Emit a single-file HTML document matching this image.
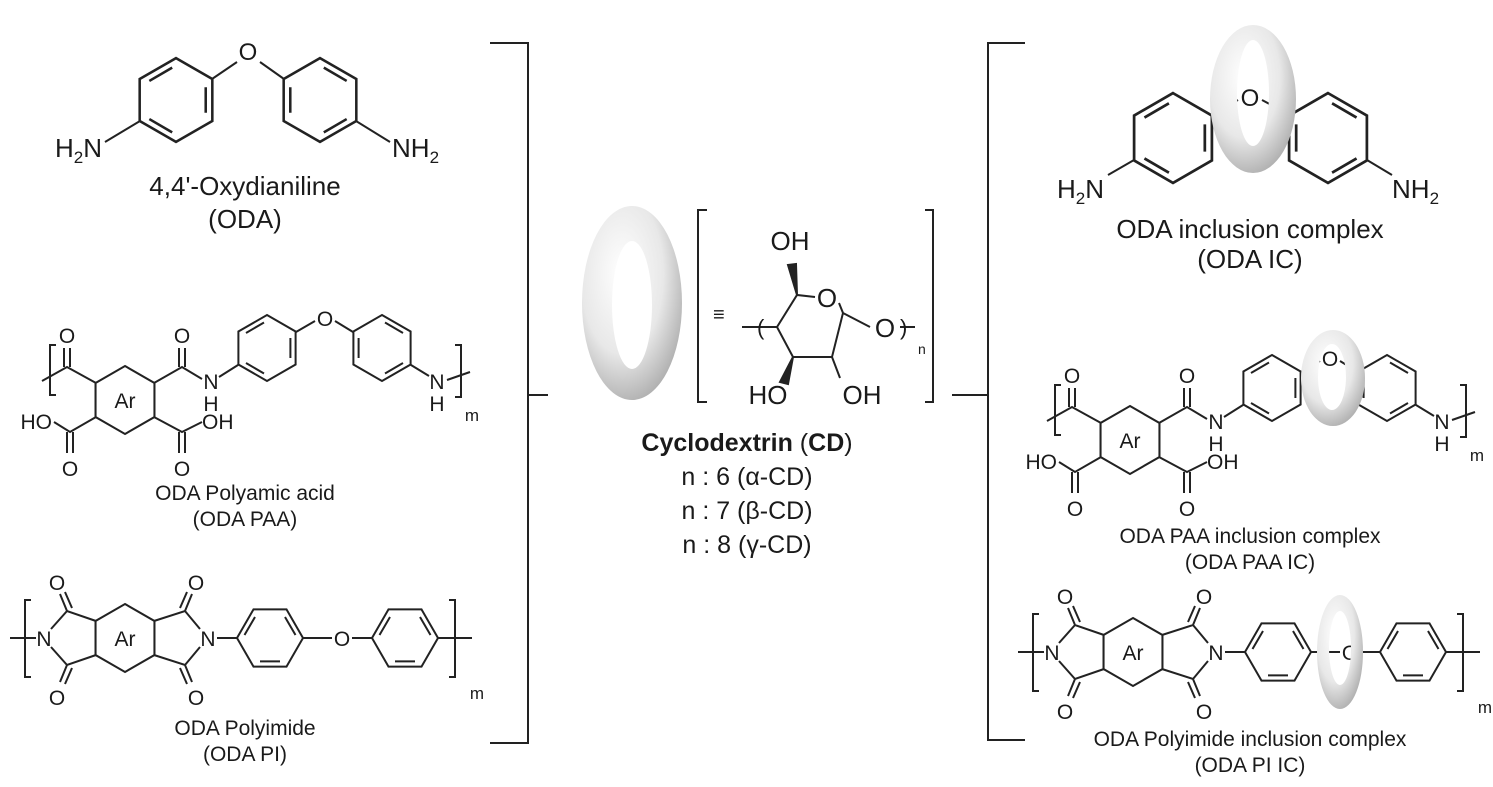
<!DOCTYPE html>
<html><head><meta charset="utf-8"><style>
html,body{margin:0;padding:0;background:#fff}
svg{display:block}
text{font-family:"Liberation Sans",Arial,sans-serif;fill:#1a1a1a}
</style></head><body>
<svg width="1493" height="787" viewBox="0 0 1493 787" xmlns="http://www.w3.org/2000/svg">
<defs>
<radialGradient id="g" cx="0.4" cy="0.35" r="0.75">
<stop offset="0" stop-color="#ffffff"/><stop offset="0.55" stop-color="#e8e8e8"/><stop offset="1" stop-color="#a2a2a2"/>
</radialGradient>
</defs>
<g fill="none" stroke="#222" stroke-width="2">

<!-- Left ODA -->
<g transform="translate(176,100) scale(1.27)"><path d="M0,-33 L28.6,-16.5 L28.6,16.5 L0,33 L-28.6,16.5 L-28.6,-16.5Z"/><path d="M-21,-15 L-3,-25.5 M23.4,-10 L23.4,10 M-3,25.5 L-21,15"/></g>
<g transform="translate(320,100) scale(1.27)"><path d="M0,-33 L28.6,-16.5 L28.6,16.5 L0,33 L-28.6,16.5 L-28.6,-16.5Z"/><path d="M21,-15 L3,-25.5 M-23.4,-10 L-23.4,10 M3,25.5 L21,15"/></g>
<path d="M212,79 L237,62 M260,62 L284,79 M140,121 L105,142 M356,121 L390,142"/>

<!-- Left PAA -->
<g>
<g transform="translate(125,400) scale(1.03)"><path d="M0,-33 L28.6,-16.5 L28.6,16.5 L0,33 L-28.6,16.5 L-28.6,-16.5Z"/></g>
<path d="M96,383 L67,367 L42,381 M64,367 L64,348 M70,367 L70,348 M154,383 L182,367 L202,379 M179,367 L179,348 M185,367 L185,348 M219,377 L238,365 M296,332 L315,321 M335,321 L353,332 M411,365 L429,376 M447,380 L470,372 M56,345 L50,345 L50,395 L56,395 M455,345 L461,345 L461,397 L455,397 M96,417 L70,432 L54,422 M67,432 L67,453 M73,432 L73,453 M154,417 L182,432 L202,422 M179,432 L179,453 M185,432 L185,453"/>
<g transform="translate(267,348)"><path d="M0,-33 L28.6,-16.5 L28.6,16.5 L0,33 L-28.6,16.5 L-28.6,-16.5Z"/><path d="M-21,-15 L-3,-25.5 M23.4,-10 L23.4,10 M-3,25.5 L-21,15"/></g>
<g transform="translate(382,348)"><path d="M0,-33 L28.6,-16.5 L28.6,16.5 L0,33 L-28.6,16.5 L-28.6,-16.5Z"/><path d="M21,-15 L3,-25.5 M-23.4,-10 L-23.4,10 M3,25.5 L21,15"/></g>
</g>

<!-- Left PI -->
<g>
<g transform="translate(125,638) scale(1.03)"><path d="M0,-33 L28.6,-16.5 L28.6,16.5 L0,33 L-28.6,16.5 L-28.6,-16.5Z"/></g>
<path d="M96,621 L67,611 L51,629 M51,647 L67,665 L96,655 M36,638 L10,638 M67,611 L60,594 M72,608 L65,592 M67,665 L60,682 M72,668 L65,684 M154,621 L185,611 L200,629 M200,647 L185,665 L154,655 M185,611 L192,594 M180,608 L187,592 M185,665 L192,682 M180,668 L187,684 M217,638 L237,638 M303,638 L332,638 M352,638 L372,638 M438,638 L472,638 M31,600 L25,600 L25,677 L31,677 M449,600 L455,600 L455,677 L449,677"/>
<g transform="translate(270,638) rotate(90)"><path d="M0,-33 L28.6,-16.5 L28.6,16.5 L0,33 L-28.6,16.5 L-28.6,-16.5Z"/><path d="M-21,-15 L-3,-25.5 M23.4,-10 L23.4,10 M-3,25.5 L-21,15"/></g>
<g transform="translate(405,638) rotate(90)"><path d="M0,-33 L28.6,-16.5 L28.6,16.5 L0,33 L-28.6,16.5 L-28.6,-16.5Z"/><path d="M-21,-15 L-3,-25.5 M23.4,-10 L23.4,10 M-3,25.5 L-21,15"/></g>
</g>

<!-- Big brackets -->
<path d="M490,43 L528,43 L528,743 L490,743 M528,395 L548,395"/>
<path d="M1025,43 L988,43 L988,740 L1025,740 M988,395 L952,395"/>

<!-- CD structure -->
<path d="M707,210 L698,210 L698,402 L707,402 M925,210 L933,210 L933,402 L925,402 M742,327 L777,327 L797,295 L815,297 M839,303 L843,313 L832,357 L793,357 L777,327 M843,313 L870,327 M900,327 L915,327 M832,357 L840,378"/>
<path d="M797,295 L788,265 L796,264Z M793,357 L780,382 L788,384Z" fill="#222"/>

<!-- Right ODA IC -->
<g transform="translate(1173,138) scale(1.36)"><path d="M0,-33 L28.6,-16.5 L28.6,16.5 L0,33 L-28.6,16.5 L-28.6,-16.5Z"/><path d="M-21,-15 L-3,-25.5 M23.4,-10 L23.4,10 M-3,25.5 L-21,15"/></g>
<g transform="translate(1328,138) scale(1.36)"><path d="M0,-33 L28.6,-16.5 L28.6,16.5 L0,33 L-28.6,16.5 L-28.6,-16.5Z"/><path d="M21,-15 L3,-25.5 M-23.4,-10 L-23.4,10 M3,25.5 L21,15"/></g>
<path d="M1211,115 L1238,100 M1262,100 L1290,115 M1134,160 L1108,175 M1367,160 L1392,175"/>

<!-- Right PAA -->
<g transform="translate(1005,40)">
<g transform="translate(125,400) scale(1.03)"><path d="M0,-33 L28.6,-16.5 L28.6,16.5 L0,33 L-28.6,16.5 L-28.6,-16.5Z"/></g>
<path d="M96,383 L67,367 L42,381 M64,367 L64,348 M70,367 L70,348 M154,383 L182,367 L202,379 M179,367 L179,348 M185,367 L185,348 M219,377 L238,365 M296,332 L315,321 M335,321 L353,332 M411,365 L429,376 M447,380 L470,372 M56,345 L50,345 L50,395 L56,395 M455,345 L461,345 L461,397 L455,397 M96,417 L70,432 L54,422 M67,432 L67,453 M73,432 L73,453 M154,417 L182,432 L202,422 M179,432 L179,453 M185,432 L185,453"/>
<g transform="translate(267,348)"><path d="M0,-33 L28.6,-16.5 L28.6,16.5 L0,33 L-28.6,16.5 L-28.6,-16.5Z"/><path d="M-21,-15 L-3,-25.5 M23.4,-10 L23.4,10 M-3,25.5 L-21,15"/></g>
<g transform="translate(382,348)"><path d="M0,-33 L28.6,-16.5 L28.6,16.5 L0,33 L-28.6,16.5 L-28.6,-16.5Z"/><path d="M21,-15 L3,-25.5 M-23.4,-10 L-23.4,10 M3,25.5 L21,15"/></g>
</g>

<!-- Right PI -->
<g transform="translate(1008,14)">
<g transform="translate(125,638) scale(1.03)"><path d="M0,-33 L28.6,-16.5 L28.6,16.5 L0,33 L-28.6,16.5 L-28.6,-16.5Z"/></g>
<path d="M96,621 L67,611 L51,629 M51,647 L67,665 L96,655 M36,638 L10,638 M67,611 L60,594 M72,608 L65,592 M67,665 L60,682 M72,668 L65,684 M154,621 L185,611 L200,629 M200,647 L185,665 L154,655 M185,611 L192,594 M180,608 L187,592 M185,665 L192,682 M180,668 L187,684 M217,638 L237,638 M303,638 L332,638 M352,638 L372,638 M438,638 L472,638 M31,600 L25,600 L25,677 L31,677 M449,600 L455,600 L455,677 L449,677"/>
<g transform="translate(270,638) rotate(90)"><path d="M0,-33 L28.6,-16.5 L28.6,16.5 L0,33 L-28.6,16.5 L-28.6,-16.5Z"/><path d="M-21,-15 L-3,-25.5 M23.4,-10 L23.4,10 M-3,25.5 L-21,15"/></g>
<g transform="translate(405,638) rotate(90)"><path d="M0,-33 L28.6,-16.5 L28.6,16.5 L0,33 L-28.6,16.5 L-28.6,-16.5Z"/><path d="M-21,-15 L-3,-25.5 M23.4,-10 L23.4,10 M-3,25.5 L-21,15"/></g>
</g>
</g>

<!-- Texts left -->
<g font-size="26">
<text x="248" y="60" text-anchor="middle" font-size="24">O</text>
<text x="102" y="157" text-anchor="end">H<tspan font-size="17" dy="6">2</tspan><tspan dy="-6">N</tspan></text>
<text x="392" y="157">NH<tspan font-size="17" dy="6">2</tspan></text>
<text x="245" y="195" text-anchor="middle">4,4'-Oxydianiline</text>
<text x="245" y="228" text-anchor="middle">(ODA)</text>
</g>
<g font-size="21" text-anchor="middle">
<text x="67" y="343">O</text><text x="182" y="343">O</text>
<text x="125" y="408">Ar</text>
<text x="211" y="389">N</text><text x="211" y="411">H</text>
<text x="325" y="326">O</text>
<text x="437" y="389">N</text><text x="437" y="411">H</text>
<text x="472" y="421" font-size="17">m</text>
<text x="70" y="476">O</text><text x="182" y="476">O</text>
<text x="52" y="429" text-anchor="end">HO</text>
<text x="202" y="429" text-anchor="start">OH</text>
</g>
<g font-size="21" text-anchor="middle">
<text x="245" y="500">ODA Polyamic acid</text>
<text x="245" y="526">(ODA PAA)</text>
<text x="125" y="646">Ar</text>
<text x="44" y="646">N</text><text x="208" y="646">N</text>
<text x="57" y="590">O</text><text x="57" y="705">O</text>
<text x="196" y="590">O</text><text x="196" y="705">O</text>
<text x="342" y="646">O</text>
<text x="477" y="699" font-size="17">m</text>
<text x="245" y="735">ODA Polyimide</text>
<text x="245" y="761">(ODA PI)</text>
</g>

<!-- Right texts -->
<g font-size="26">
<text x="1250" y="106" text-anchor="middle" font-size="24">O</text>
<text x="1104" y="198" text-anchor="end">H<tspan font-size="17" dy="6">2</tspan><tspan dy="-6">N</tspan></text>
<text x="1392" y="198">NH<tspan font-size="17" dy="6">2</tspan></text>
<text x="1250" y="238" text-anchor="middle">ODA inclusion complex</text>
<text x="1250" y="268" text-anchor="middle">(ODA IC)</text>
</g>
<g transform="translate(1005,40)" font-size="21" text-anchor="middle">
<text x="67" y="343">O</text><text x="182" y="343">O</text>
<text x="125" y="408">Ar</text>
<text x="211" y="389">N</text><text x="211" y="411">H</text>
<text x="325" y="326">O</text>
<text x="437" y="389">N</text><text x="437" y="411">H</text>
<text x="472" y="421" font-size="17">m</text>
<text x="70" y="476">O</text><text x="182" y="476">O</text>
<text x="52" y="429" text-anchor="end">HO</text>
<text x="202" y="429" text-anchor="start">OH</text>
</g>
<g transform="translate(1008,14)" font-size="21" text-anchor="middle">
<text x="125" y="646">Ar</text>
<text x="44" y="646">N</text><text x="208" y="646">N</text>
<text x="57" y="590">O</text><text x="57" y="705">O</text>
<text x="196" y="590">O</text><text x="196" y="705">O</text>
<text x="342" y="646">O</text>
<text x="477" y="699" font-size="17">m</text>
</g>
<g font-size="21" text-anchor="middle">
<text x="1250" y="543">ODA PAA inclusion complex</text>
<text x="1250" y="569">(ODA PAA IC)</text>
<text x="1250" y="746">ODA Polyimide inclusion complex</text>
<text x="1250" y="772">(ODA PI IC)</text>
</g>

<!-- CD texts -->
<g font-size="26">
<text x="713" y="321" font-size="20">≡</text>
<text x="790" y="250" text-anchor="middle">OH</text>
<text x="827" y="307" text-anchor="middle">O</text>
<text x="885" y="337" text-anchor="middle">O</text>
<text x="757" y="335" font-size="22">(</text>
<text x="900" y="335" font-size="22">)</text>
<text x="918" y="354" font-size="14">n</text>
<text x="768" y="404" text-anchor="middle">HO</text>
<text x="862" y="404" text-anchor="middle">OH</text>
</g>
<g font-size="25" text-anchor="middle">
<text x="747" y="451"><tspan font-weight="bold">Cyclodextrin</tspan> (<tspan font-weight="bold">CD</tspan>)</text>
<text x="747" y="485">n : 6 (α-CD)</text>
<text x="747" y="519">n : 7 (β-CD)</text>
<text x="747" y="553">n : 8 (γ-CD)</text>
</g>

<!-- Tori -->
<path fill="url(#g)" fill-rule="evenodd" d="M582,303 a50,97 0 1,0 100,0 a50,97 0 1,0 -100,0Z M612,305 a20,64 0 1,0 40,0 a20,64 0 1,0 -40,0Z"/>
<path fill="url(#g)" fill-rule="evenodd" d="M1210,99 a43,74 0 1,0 86,0 a43,74 0 1,0 -86,0Z M1237,93 a16,53 0 1,0 32,0 a16,53 0 1,0 -32,0Z"/>
<path fill="url(#g)" fill-rule="evenodd" d="M1301,378 a32,48 0 1,0 64,0 a32,48 0 1,0 -64,0Z M1318,377 a14,33 0 1,0 28,0 a14,33 0 1,0 -28,0Z"/>
<path fill="url(#g)" fill-rule="evenodd" d="M1317,652 a23,57 0 1,0 46,0 a23,57 0 1,0 -46,0Z M1329,648 a11,37 0 1,0 22,0 a11,37 0 1,0 -22,0Z"/>
</svg>
</body></html>
